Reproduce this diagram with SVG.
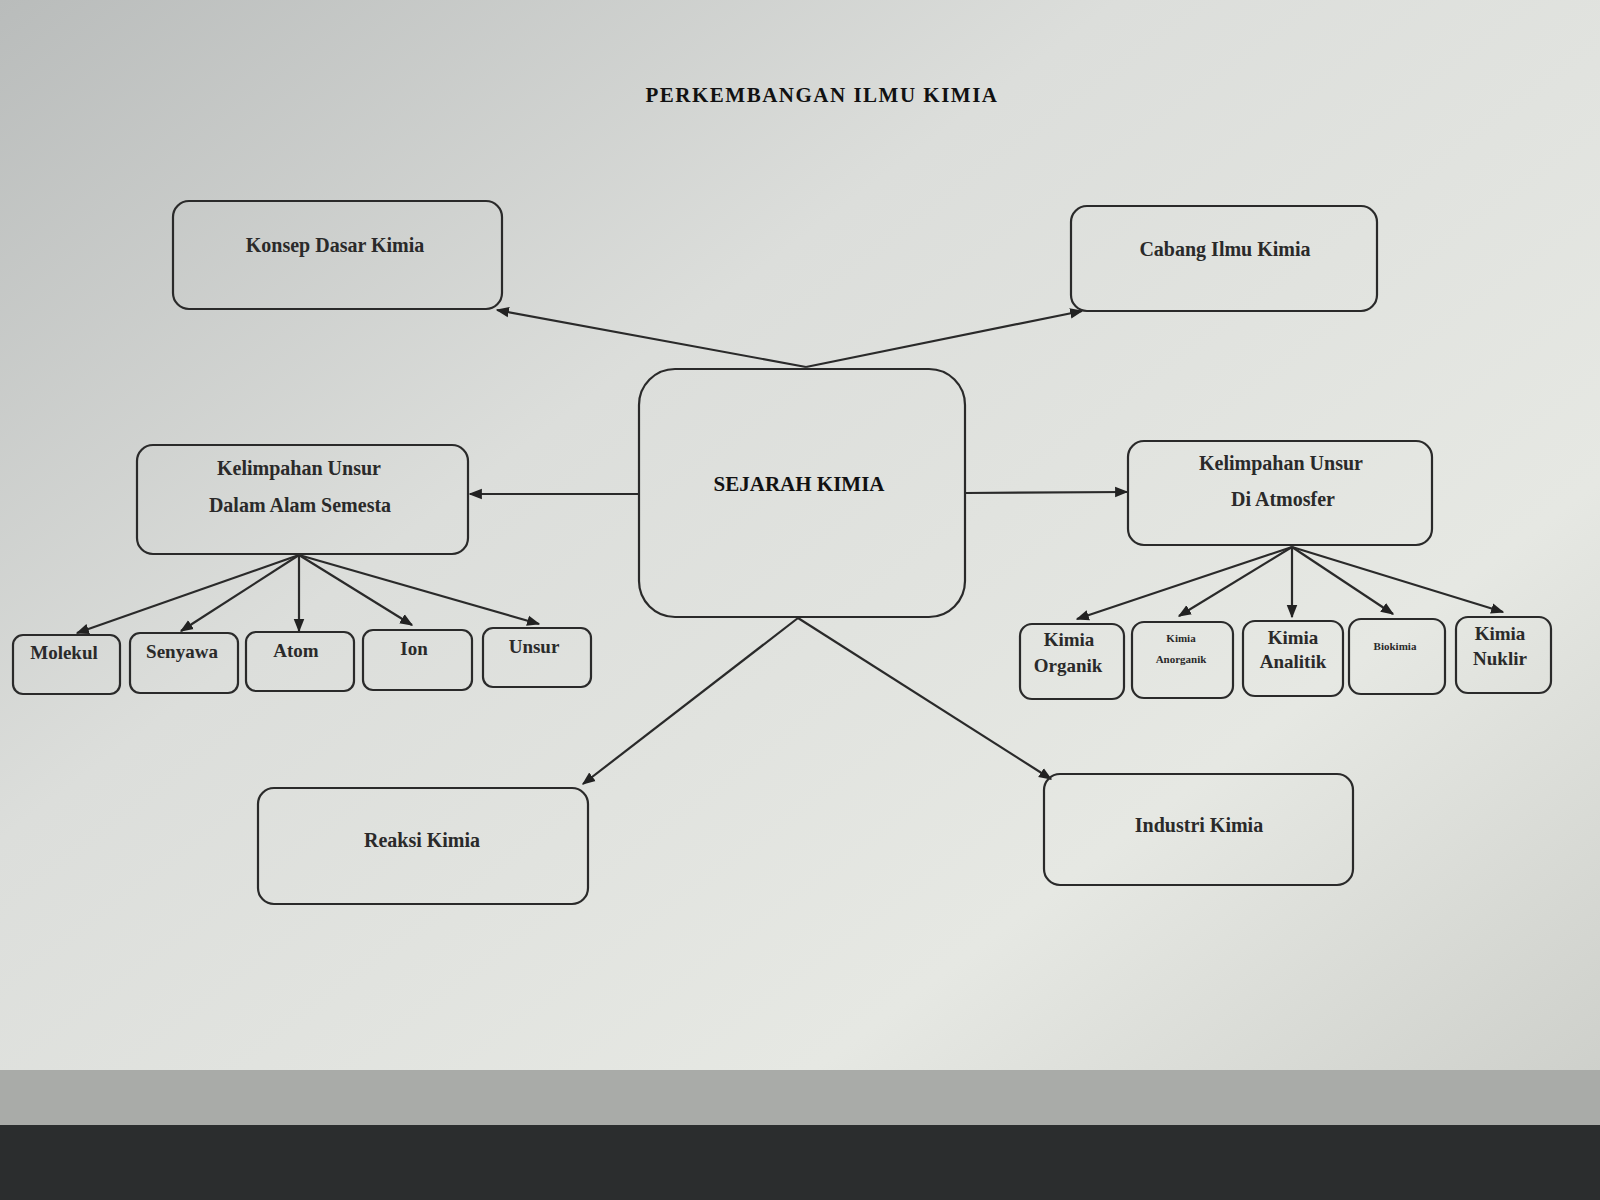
<svg xmlns="http://www.w3.org/2000/svg" width="1600" height="1200" viewBox="0 0 1600 1200">
<defs>
<linearGradient id="bg" x1="0" y1="0" x2="1" y2="1">
<stop offset="0" stop-color="#b9bcbb"/>
<stop offset="0.35" stop-color="#dcdedb"/>
<stop offset="0.7" stop-color="#e6e8e3"/>
<stop offset="1" stop-color="#c9cbc6"/>
</linearGradient>
<marker id="arr" viewBox="0 0 10 10" refX="9" refY="5" markerWidth="6" markerHeight="6" orient="auto-start-reverse">
<path d="M0,1 L10,5 L0,9 z" fill="#222"/>
</marker>
<style>
.box{fill:none;stroke:#2a2a2a;stroke-width:2.2}
.t{font-family:"Liberation Serif","Times New Roman",serif;fill:#2a2a2a;text-anchor:middle;dominant-baseline:middle}
.m{font-size:20px;font-weight:bold}
.s{font-size:19px;font-weight:bold}
.xs{font-size:11px;font-weight:bold}
.b{font-size:21px;font-weight:bold;fill:#111}
.c{stroke:#2a2a2a;stroke-width:2.2;fill:none;marker-end:url(#arr)}
</style>
</defs>
<rect x="0" y="0" width="1600" height="1200" fill="url(#bg)"/>
<rect x="0" y="1070" width="1600" height="55" fill="#a9aba8"/>
<rect x="0" y="1125" width="1600" height="75" fill="#2b2d2e"/>

<text class="t b" x="822" y="97" font-size="24" letter-spacing="1.5">PERKEMBANGAN  ILMU  KIMIA</text>

<g id="connectors">
<line class="c" x1="806" y1="367" x2="497" y2="310"/>
<line class="c" x1="806" y1="367" x2="1082" y2="311"/>
<line class="c" x1="639" y1="494" x2="470" y2="494"/>
<line class="c" x1="965" y1="493" x2="1127" y2="492"/>
<line class="c" x1="798" y1="618" x2="583" y2="784"/>
<line class="c" x1="798" y1="618" x2="1051" y2="779"/>
<line class="c" x1="299" y1="555" x2="77" y2="633"/>
<line class="c" x1="299" y1="555" x2="181" y2="631"/>
<line class="c" x1="299" y1="555" x2="299" y2="631"/>
<line class="c" x1="299" y1="555" x2="412" y2="625"/>
<line class="c" x1="299" y1="555" x2="539" y2="624"/>
<line class="c" x1="1292" y1="547" x2="1077" y2="619"/>
<line class="c" x1="1292" y1="547" x2="1179" y2="616"/>
<line class="c" x1="1292" y1="547" x2="1292" y2="617"/>
<line class="c" x1="1292" y1="547" x2="1393" y2="614"/>
<line class="c" x1="1292" y1="547" x2="1503" y2="612"/>
</g>

<g id="konsep"><rect class="box" x="173" y="201" width="329" height="108" rx="16"/><text class="t m" x="335" y="247">Konsep Dasar Kimia</text></g>
<g id="cabang"><rect class="box" x="1071" y="206" width="306" height="105" rx="16"/><text class="t m" x="1225" y="251">Cabang Ilmu Kimia</text></g>
<g id="sejarah"><rect class="box" x="639" y="369" width="326" height="248" rx="36"/><text class="t b" x="799" y="486">SEJARAH  KIMIA</text></g>
<g id="kel-alam"><rect class="box" x="137" y="445" width="331" height="109" rx="16"/><text class="t m" x="299" y="470">Kelimpahan Unsur</text><text class="t m" x="300" y="507">Dalam Alam Semesta</text></g>
<g id="kel-atm"><rect class="box" x="1128" y="441" width="304" height="104" rx="16"/><text class="t m" x="1281" y="465">Kelimpahan Unsur</text><text class="t m" x="1283" y="501">Di Atmosfer</text></g>

<g id="molekul"><rect class="box" x="13" y="635" width="107" height="59" rx="10"/><text class="t s" x="64" y="655">Molekul</text></g>
<g id="senyawa"><rect class="box" x="130" y="633" width="108" height="60" rx="10"/><text class="t s" x="182" y="654">Senyawa</text></g>
<g id="atom"><rect class="box" x="246" y="632" width="108" height="59" rx="10"/><text class="t s" x="296" y="653">Atom</text></g>
<g id="ion"><rect class="box" x="363" y="630" width="109" height="60" rx="10"/><text class="t s" x="414" y="651">Ion</text></g>
<g id="unsur"><rect class="box" x="483" y="628" width="108" height="59" rx="10"/><text class="t s" x="534" y="649">Unsur</text></g>

<g id="organik"><rect class="box" x="1020" y="624" width="104" height="75" rx="12"/><text class="t s" x="1069" y="642">Kimia</text><text class="t s" x="1068" y="668">Organik</text></g>
<g id="anorganik"><rect class="box" x="1132" y="622" width="101" height="76" rx="12"/><text class="t xs" x="1181" y="639">Kimia</text><text class="t xs" x="1181" y="660">Anorganik</text></g>
<g id="analitik"><rect class="box" x="1243" y="621" width="100" height="75" rx="12"/><text class="t s" x="1293" y="640">Kimia</text><text class="t s" x="1293" y="664">Analitik</text></g>
<g id="biokimia"><rect class="box" x="1349" y="619" width="96" height="75" rx="12"/><text class="t xs" x="1395" y="647">Biokimia</text></g>
<g id="nuklir"><rect class="box" x="1456" y="617" width="95" height="76" rx="12"/><text class="t s" x="1500" y="636">Kimia</text><text class="t s" x="1500" y="661">Nuklir</text></g>

<g id="reaksi"><rect class="box" x="258" y="788" width="330" height="116" rx="16"/><text class="t m" x="422" y="842">Reaksi Kimia</text></g>
<g id="industri"><rect class="box" x="1044" y="774" width="309" height="111" rx="16"/><text class="t m" x="1199" y="827">Industri Kimia</text></g>
</svg>
